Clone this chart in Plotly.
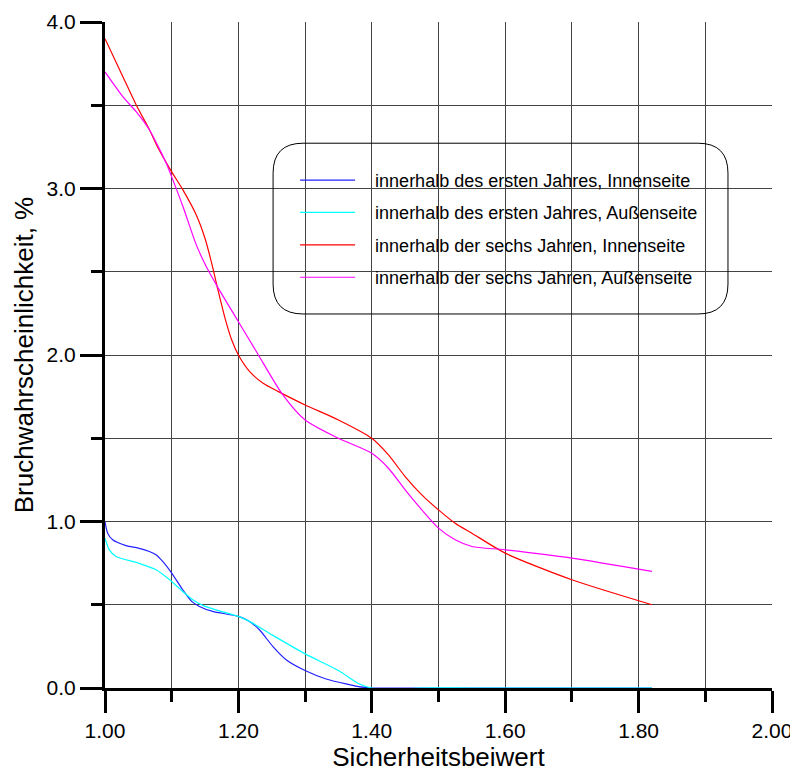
import plotly.graph_objects as go

x_blue = [1.00, 1.004, 1.0115, 1.0315, 1.05, 1.0665, 1.0765, 1.0865, 1.10, 1.1165, 1.13, 1.1415, 1.1615, 1.20,
          1.2165, 1.2315, 1.2515, 1.2715, 1.30, 1.3315, 1.3665, 1.38, 1.40, 1.50, 1.60, 1.70, 1.82]
y_blue = [1.00, 0.93, 0.89, 0.855, 0.84, 0.82, 0.80, 0.76, 0.69, 0.59, 0.52, 0.49, 0.46, 0.43,
          0.40, 0.35, 0.25, 0.17, 0.105, 0.054, 0.02, 0.008, 0.0, 0.0, 0.0, 0.0, 0.0]

x_cyan = [1.00, 1.0065, 1.0165, 1.05, 1.0765, 1.10, 1.1165, 1.1315, 1.15, 1.20, 1.2165, 1.25, 1.30, 1.35,
          1.3815, 1.40, 1.43, 1.47, 1.55, 1.65, 1.82]
y_cyan = [0.90, 0.83, 0.79, 0.75, 0.71, 0.64, 0.58, 0.53, 0.49, 0.43, 0.40, 0.32, 0.205, 0.105,
          0.024, 0.0, -0.01, 0.0, 0.0, 0.0, 0.0]

x_red = [1.00, 1.027, 1.047, 1.067, 1.08, 1.10, 1.117, 1.137, 1.15, 1.16, 1.17, 1.18, 1.19, 1.20, 1.217,
         1.237, 1.26, 1.30, 1.35, 1.40, 1.425, 1.45, 1.475, 1.50, 1.525, 1.55, 1.60, 1.70, 1.82]
y_red = [3.90, 3.67, 3.50, 3.35, 3.24, 3.10, 2.99, 2.84, 2.70, 2.55, 2.38, 2.22, 2.09, 2.00, 1.90,
         1.83, 1.78, 1.70, 1.61, 1.50, 1.40, 1.27, 1.16, 1.07, 0.99, 0.93, 0.81, 0.65, 0.50]

x_mag = [1.00, 1.027, 1.047, 1.067, 1.08, 1.092, 1.10, 1.117, 1.137, 1.152, 1.17, 1.20, 1.23, 1.265,
         1.30, 1.35, 1.40, 1.425, 1.45, 1.475, 1.50, 1.525, 1.55, 1.60, 1.70, 1.82]
y_mag = [3.70, 3.55, 3.46, 3.35, 3.25, 3.15, 3.07, 2.89, 2.66, 2.53, 2.40, 2.20, 2.00, 1.77,
         1.61, 1.50, 1.41, 1.32, 1.19, 1.07, 0.96, 0.89, 0.85, 0.83, 0.78, 0.70]

names = [
    "innerhalb des ersten Jahres, Innenseite",
    "innerhalb des ersten Jahres, Außenseite",
    "innerhalb der sechs Jahren, Innenseite",
    "innerhalb der sechs Jahren, Außenseite",
]
colors = ["#2222ff", "#00ffff", "#ff0000", "#ff00ff"]

fig = go.Figure()
for i, (xs, ys) in enumerate([(x_blue, y_blue), (x_cyan, y_cyan), (x_red, y_red), (x_mag, y_mag)]):
    fig.add_trace(go.Scatter(
        x=xs, y=ys, mode="lines", name="\u00a0\u00a0\u00a0" + names[i],
        line=dict(color=colors[i], width=1.2, shape="spline", smoothing=0.7),
        legendgroup=f"g{i}",
    ))

font = "Arial, Liberation Sans, sans-serif"
# the page body adds an 8px offset; margins compensate so the plot lands where the reference has it
fig.update_layout(
    width=798, height=769,
    margin=dict(l=97, r=34, t=14, b=89),
    plot_bgcolor="white", paper_bgcolor="white",
    font=dict(family=font, color="black"),
    showlegend=True,
    legend=dict(
        x=0.285, y=0.79, xanchor="left", yanchor="top",
        bgcolor="rgba(0,0,0,0)", borderwidth=0,
        font=dict(size=18, family=font), tracegroupgap=6,
        itemwidth=55,
    ),
    xaxis=dict(
        range=[1.0, 2.0], tickmode="linear", tick0=1.0, dtick=0.2, automargin=False,
        tickformat=".2f", ticks="outside", ticklen=22, tickwidth=3, tickcolor="black",
        showline=True, linecolor="black", linewidth=3,
        showgrid=True, gridcolor="#444", gridwidth=1,
        minor=dict(dtick=0.1, ticks="outside", ticklen=11, tickwidth=3, tickcolor="black",
                   showgrid=True, gridcolor="#444", gridwidth=1),
        tickfont=dict(size=21), zeroline=False,
        title=dict(text="Sicherheitsbeiwert", font=dict(size=26), standoff=0),
    ),
    yaxis=dict(
        range=[0, 4.0], tickmode="linear", tick0=0, dtick=1.0, automargin=False,
        tickformat=".1f", ticks="outside", ticklen=22, tickwidth=3, tickcolor="black",
        showline=True, linecolor="black", linewidth=3,
        showgrid=True, gridcolor="#444", gridwidth=1,
        minor=dict(dtick=0.5, ticks="outside", ticklen=11, tickwidth=3, tickcolor="black",
                   showgrid=True, gridcolor="#444", gridwidth=1),
        tickfont=dict(size=21), zeroline=False,
        title=dict(text="Bruchwahrscheinlichkeit, %", font=dict(size=26), standoff=6),
    ),
)

# rounded legend frame
x0, x1, y0, y1 = 0.252, 0.934, 0.5616, 0.818
rx, ry = 0.045, 0.045
path = (f"M {x0+rx},{y1} L {x1-rx},{y1} Q {x1},{y1} {x1},{y1-ry} "
        f"L {x1},{y0+ry} Q {x1},{y0} {x1-rx},{y0} L {x0+rx},{y0} "
        f"Q {x0},{y0} {x0},{y0+ry} L {x0},{y1-ry} Q {x0},{y1} {x0+rx},{y1} Z")
fig.add_shape(type="path", path=path, xref="paper", yref="paper",
              line=dict(color="black", width=1), layer="above")

fig.write_html("out.html")
